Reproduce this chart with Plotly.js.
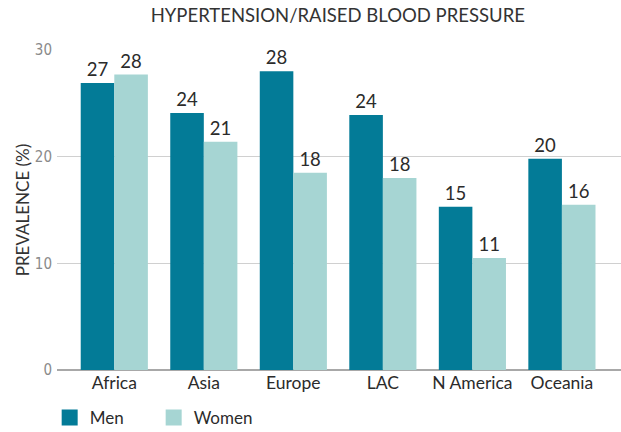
<!DOCTYPE html>
<html>
<head>
<meta charset="utf-8">
<script src="https://cdn.plot.ly/plotly-3.0.1.min.js"></script>
<style>
  html, body { margin: 0; padding: 0; background: #fff; }
  #chart { width: 621px; height: 432px; }
</style>
</head>
<body>
<div id="chart"></div>
<script>
const regions = ["Africa", "Asia", "Europe", "LAC", "N America", "Oceania"]
const men = [26.9, 24.1, 28.0, 23.9, 15.3, 19.8]
const women = [27.7, 21.4, 18.5, 18.0, 10.5, 15.5]
const menLabels = ["27", "24", "28", "24", "15", "20"]
const womenLabels = ["28", "21", "18", "18", "11", "16"]
const yTicks = [0, 10, 20, 30]

const MEN_COLOR = "#037b97"
const WOMEN_COLOR = "#a6d5d3"
const FONT = "Lato, 'Open Sans', sans-serif"
const NARROW = "'Liberation Sans Narrow', 'DejaVu Sans Condensed', sans-serif"
const textFont = {family: FONT, size: 18.5, color: "#2b2b2b"}

// bars carry the values; legend swatches come from two empty square-marker traces
const data = [
  {x: regions, y: men, type: "bar", name: "Men", text: menLabels, showlegend: false,
    textposition: "outside", textfont: textFont, cliponaxis: false, marker: {color: MEN_COLOR}},
  {x: regions, y: women, type: "bar", name: "Women", text: womenLabels, showlegend: false,
    textposition: "outside", textfont: textFont, cliponaxis: false, marker: {color: WOMEN_COLOR}},
  {x: [null], y: [null], type: "scatter", mode: "markers", name: "Men",
    marker: {symbol: "square", size: 16, color: MEN_COLOR}},
  {x: [null], y: [null], type: "scatter", mode: "markers", name: "Women",
    marker: {symbol: "square", size: 16, color: WOMEN_COLOR}}
]

const layout = {
  width: 621, height: 432,
  margin: {l: 57, r: 0, t: 50, b: 62, autoexpand: false},
  paper_bgcolor: "#fff", plot_bgcolor: "#fff",
  font: {family: FONT, color: "#2b2b2b"},
  title: {text: "HYPERTENSION/RAISED BLOOD PRESSURE", font: {family: FONT, size: 18.5, color: "#333"},
    x: 0.544, xanchor: "center", y: 0.963, yanchor: "middle"},
  barmode: "group", bargap: 0.25, bargroupgap: 0,
  xaxis: {type: "category", range: [-0.64, 5.66], showgrid: false, zeroline: false,
    showline: false, ticks: "", tickfont: {family: FONT, size: 17.5, color: "#2b2b2b"}},
  yaxis: {range: [0, 30], tickvals: yTicks, ticktext: yTicks.map(String),
    showgrid: true, gridcolor: "#d0d0d0", gridwidth: 1,
    zeroline: true, zerolinecolor: "#a8a8a8", zerolinewidth: 1.5,
    ticks: "", ticklabelstandoff: 4, tickfont: {family: NARROW, size: 15, color: "#8a8a8a"},
    title: {text: "PREVALENCE (%)", font: {family: FONT, size: 17, color: "#333"}, standoff: 0}},
  showlegend: true,
  legend: {orientation: "h", x: -0.013, xanchor: "left", y: -0.15, yanchor: "middle",
    font: {family: FONT, size: 17, color: "#2b2b2b"}, itemsizing: "trace",
    entrywidth: 59, traceorder: "normal"}
}

Plotly.newPlot("chart", data, layout, {displayModeBar: false, staticPlot: true})
</script>
</body>
</html>
